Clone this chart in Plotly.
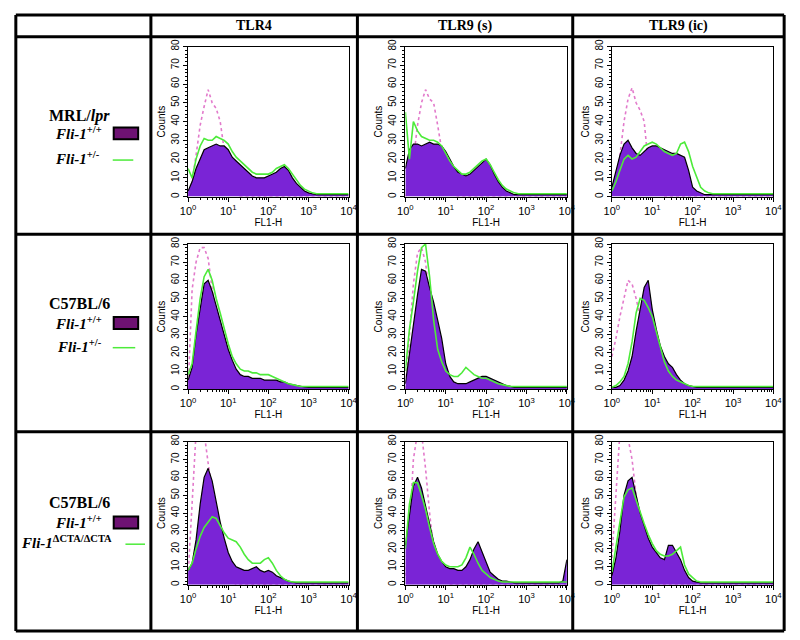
import plotly.graph_objects as go

# ---------------- data ----------------
FL1_H = [1.0, 1.26, 1.58, 2.0, 2.51, 3.16, 3.98, 5.01, 6.31, 7.94,
         10.0, 12.6, 15.8, 20.0, 25.1, 31.6, 39.8, 50.1, 63.1, 79.4,
         100, 126, 158, 200, 251, 316, 398, 501, 631, 794,
         1000, 1259, 1585, 1995, 2512, 3162, 3981, 5012, 6310, 7943, 10000]

columns = ["TLR4", "TLR9 (s)", "TLR9 (ic)"]
strains = ["MRL/<i>lpr</i>", "C57BL/6", "C57BL/6"]
wt_label = "<i>Fli-1</i><sup>+/+</sup>"
mut_labels = ["<i>Fli-1</i><sup>+/-</sup>", "<i>Fli-1</i><sup>+/-</sup>",
              "<i>Fli-1</i><sup>ΔCTA/ΔCTA</sup>"]

# Row 1: MRL/lpr
tlr4_mrl_wt = [3, 8, 15, 20, 25, 26, 27, 28, 27, 27, 25, 21, 19, 17, 15, 13, 11, 10, 10, 10,
               11, 12, 13, 15, 16, 14, 10, 7, 5, 3, 2, 1.5, 1, 1, 1, 1, 1, 1, 1, 1, 1]
tlr4_mrl_het = [15, 10, 20, 27, 31, 30, 30, 32, 31, 30, 28, 24, 21, 19, 17, 15, 13, 12, 12, 12,
                12, 13, 15, 16, 17, 15, 12, 9, 6, 4, 3, 2, 1.5, 1.5, 1.5, 1.5, 1.5, 1.5, 1.5, 1.5, 1.5]
tlr4_mrl_iso = [0, 8, 22, 38, 48, 57, 50, 47, 40, 25, 10, 6, 2, 0, 0, 0, 0, 0, 0, 0,
                0, 0, 0, 0, 0, 0, 0, 0, 0, 0, 0, 0, 0, 0, 0, 0, 0, 0, 0, 0, 0]

tlr9s_mrl_wt = [15, 25, 28, 28, 27, 28, 29, 28, 28, 27, 24, 20, 16, 13, 12, 11, 12, 14, 16, 18,
                20, 17, 12, 8, 5, 3, 2, 1, 1, 1, 1, 1, 1, 1, 1, 1, 1, 1, 1, 1, 1]
tlr9s_mrl_het = [45, 20, 40, 35, 32, 31, 30, 30, 29, 27, 23, 19, 16, 14, 12, 12, 13, 15, 17, 19,
                 20, 17, 13, 9, 6, 4, 3, 2, 1.5, 1.5, 1.5, 1.5, 1.5, 1.5, 1.5, 1.5, 1.5, 1.5, 1.5, 1.5, 1.5]
tlr9s_mrl_iso = [0, 5, 20, 38, 50, 57, 52, 50, 38, 25, 12, 5, 2, 0, 0, 0, 0, 0, 0, 0,
                 0, 0, 0, 0, 0, 0, 0, 0, 0, 0, 0, 0, 0, 0, 0, 0, 0, 0, 0, 0, 0]

tlr9ic_mrl_wt = [5, 14, 22, 28, 30, 26, 23, 22, 24, 26, 27, 27, 26, 25, 24, 23, 23, 22, 21, 14,
                 5, 3, 2, 1, 1, 1, 1, 1, 1, 1, 1, 1, 1, 1, 1, 1, 1, 1, 1, 1, 1]
tlr9ic_mrl_het = [3, 8, 14, 20, 22, 20, 21, 24, 27, 28, 29, 28, 26, 24, 23, 22, 23, 28, 29, 24,
                  16, 10, 5, 3, 2, 1.5, 1.5, 1.5, 1.5, 1.5, 1.5, 1.5, 1.5, 1.5, 1.5, 1.5, 1.5, 1.5, 1.5, 1.5, 1.5]
tlr9ic_mrl_iso = [3, 10, 22, 40, 52, 58, 50, 46, 40, 18, 8, 3, 1, 0, 0, 0, 0, 0, 0, 0,
                  0, 0, 0, 0, 0, 0, 0, 0, 0, 0, 0, 0, 0, 0, 0, 0, 0, 0, 0, 0, 0]

# Row 2: C57BL/6, Fli-1 +/-
tlr4_b6_wt = [5, 12, 30, 45, 58, 60, 54, 46, 38, 29, 22, 16, 11, 8, 7, 7, 6, 6, 6, 5,
              5, 5, 5, 4, 4, 3, 2.5, 2, 1.5, 1.2, 1, 1, 1, 1, 1, 1, 1, 1, 1, 1, 1]
tlr4_b6_het = [8, 14, 32, 50, 62, 66, 60, 50, 42, 33, 25, 18, 14, 11, 10, 10, 9, 9, 8, 8,
               8, 7, 6, 5, 4, 3, 2.5, 2, 1.5, 1.5, 1.5, 1.5, 1.5, 1.5, 1.5, 1.5, 1.5, 1.5, 1.5, 1.5, 1.5]
tlr4_b6_iso = [0, 55, 70, 78, 78, 72, 55, 38, 22, 12, 6, 3, 1, 0, 0, 0, 0, 0, 0, 0,
               0, 0, 0, 0, 0, 0, 0, 0, 0, 0, 0, 0, 0, 0, 0, 0, 0, 0, 0, 0, 0]

tlr9s_b6_wt = [3, 20, 35, 52, 66, 65, 56, 48, 38, 28, 14, 7, 4, 3, 3, 3, 4, 5, 6, 7,
               7, 6, 5, 4, 3, 2, 1.5, 1, 1, 1, 1, 1, 1, 1, 1, 1, 1, 1, 1, 1, 1]
tlr9s_b6_het = [10, 33, 48, 65, 78, 80, 62, 38, 22, 15, 10, 8, 7, 7, 9, 12, 10, 8, 7, 6,
                6, 5, 4, 3, 2.5, 2, 1.5, 1.5, 1.5, 1.5, 1.5, 1.5, 1.5, 1.5, 1.5, 1.5, 1.5, 1.5, 1.5, 1.5, 1.5]
tlr9s_b6_iso = [0, 30, 58, 75, 78, 70, 50, 30, 15, 8, 4, 2, 0, 0, 0, 0, 0, 0, 0, 0,
                0, 0, 0, 0, 0, 0, 0, 0, 0, 0, 0, 0, 0, 0, 0, 0, 0, 0, 0, 0, 0]

tlr9ic_b6_wt = [1, 1, 2, 5, 10, 18, 32, 45, 56, 60, 44, 33, 24, 18, 14, 12, 8, 5, 3, 2,
                1.5, 1, 1, 1, 1, 1, 1, 1, 1, 1, 1, 1, 1, 1, 1, 1, 1, 1, 1, 1, 1]
tlr9ic_b6_het = [1, 2, 4, 7, 14, 26, 42, 50, 49, 45, 40, 32, 23, 15, 10, 7, 5, 4, 3, 2,
                 1.5, 1.5, 1.5, 1.5, 1.5, 1.5, 1.5, 1.5, 1.5, 1.5, 1.5, 1.5, 1.5, 1.5, 1.5, 1.5, 1.5, 1.5, 1.5, 1.5, 1.5]
tlr9ic_b6_iso = [18, 28, 40, 50, 60, 58, 50, 40, 28, 18, 10, 5, 2, 0, 0, 0, 0, 0, 0, 0,
                 0, 0, 0, 0, 0, 0, 0, 0, 0, 0, 0, 0, 0, 0, 0, 0, 0, 0, 0, 0, 0]

# Row 3: C57BL/6, Fli-1 dCTA/dCTA
tlr4_cta_wt = [8, 12, 25, 45, 60, 65, 58, 46, 35, 26, 18, 13, 10, 9, 8, 8, 9, 10, 8, 7,
               8, 7, 5, 4, 3, 2, 1.5, 1, 1, 1, 1, 1, 1, 1, 1, 1, 1, 1, 1, 1, 1]
tlr4_cta_mut = [8, 12, 20, 27, 32, 35, 38, 37, 33, 29, 26, 25, 24, 21, 17, 14, 12, 12, 12, 14,
                15, 12, 8, 5, 3, 2, 1.5, 1.5, 1.5, 1.5, 1.5, 1.5, 1.5, 1.5, 1.5, 1.5, 1.5, 1.5, 1.5, 1.5, 1.5]
tlr4_cta_iso = [5, 45, 85, 90, 85, 68, 52, 38, 22, 10, 4, 2, 0, 0, 0, 0, 0, 0, 0, 0,
                0, 0, 0, 0, 0, 0, 0, 0, 0, 0, 0, 0, 0, 0, 0, 0, 0, 0, 0, 0, 0]

tlr9s_cta_wt = [22, 40, 55, 60, 54, 44, 34, 24, 17, 13, 10, 9, 9, 8, 8, 10, 14, 20, 24, 18,
                12, 7, 5, 3, 2, 2, 1.5, 1, 1, 1, 1, 1, 1, 1, 1, 1, 1, 1, 1, 2, 14]
tlr9s_cta_mut = [20, 45, 57, 57, 50, 42, 32, 23, 17, 13, 11, 10, 10, 10, 11, 15, 21, 17, 12, 8,
                 6, 4, 3, 2, 1.5, 1.5, 1.5, 1.5, 1.5, 1.5, 1.5, 1.5, 1.5, 1.5, 1.5, 1.5, 1.5, 1.5, 1.5, 1.5, 1.5]
tlr9s_cta_iso = [5, 30, 70, 85, 85, 65, 40, 20, 8, 3, 1, 0, 0, 0, 0, 0, 0, 0, 0, 0,
                 0, 0, 0, 0, 0, 0, 0, 0, 0, 0, 0, 0, 0, 0, 0, 0, 0, 0, 0, 0, 0]

tlr9ic_cta_wt = [5, 15, 30, 50, 58, 60, 50, 40, 33, 26, 21, 18, 15, 14, 22, 22, 18, 14, 8, 4,
                 2, 1.5, 1, 1, 1, 1, 1, 1, 1, 1, 1, 1, 1, 1, 1, 1, 1, 1, 1, 1, 1]
tlr9ic_cta_mut = [7, 20, 35, 49, 53, 54, 47, 40, 34, 28, 23, 19, 17, 16, 16, 17, 19, 21, 11, 6,
                  4, 2, 1.5, 1.5, 1.5, 1.5, 1.5, 1.5, 1.5, 1.5, 1.5, 1.5, 1.5, 1.5, 1.5, 1.5, 1.5, 1.5, 1.5, 1.5, 1.5]
tlr9ic_cta_iso = [15, 50, 85, 88, 82, 70, 50, 35, 18, 8, 3, 1, 0, 0, 0, 0, 0, 0, 0, 0,
                  0, 0, 0, 0, 0, 0, 0, 0, 0, 0, 0, 0, 0, 0, 0, 0, 0, 0, 0, 0, 0]

panels = [
    [(tlr4_mrl_wt, tlr4_mrl_het, tlr4_mrl_iso),
     (tlr9s_mrl_wt, tlr9s_mrl_het, tlr9s_mrl_iso),
     (tlr9ic_mrl_wt, tlr9ic_mrl_het, tlr9ic_mrl_iso)],
    [(tlr4_b6_wt, tlr4_b6_het, tlr4_b6_iso),
     (tlr9s_b6_wt, tlr9s_b6_het, tlr9s_b6_iso),
     (tlr9ic_b6_wt, tlr9ic_b6_het, tlr9ic_b6_iso)],
    [(tlr4_cta_wt, tlr4_cta_mut, tlr4_cta_iso),
     (tlr9s_cta_wt, tlr9s_cta_mut, tlr9s_cta_iso),
     (tlr9ic_cta_wt, tlr9ic_cta_mut, tlr9ic_cta_iso)],
]

# ---------------- styling / layout ----------------
W, H = 800, 640
def PX(x): return x / W
def PY(y): return 1 - y / H

FILL = "#7A24D6"
GREEN = "#4DEB3A"
PINK = "#E27ACB"
SWATCH = "#6E1273"
SERIF = "Liberation Serif, Times New Roman, serif"
SANS = "Liberation Sans, Arial, sans-serif"

col_px = [(184, 348), (406, 571), (617, 782)]
row_px = [(40, 192), (240, 387), (440, 585)]

fig = go.Figure()
layout = dict(width=W, height=H, autosize=False,
              margin=dict(l=0, r=0, t=0, b=0, pad=0),
              paper_bgcolor="white", plot_bgcolor="white", showlegend=False)

minor_x = [m * 10 ** d for d in range(4) for m in range(2, 10)]

k = 0
for r in range(3):
    for c in range(3):
        k += 1
        wt, mut, iso = panels[r][c]
        xa = "x" if k == 1 else f"x{k}"
        ya = "y" if k == 1 else f"y{k}"
        fig.add_trace(go.Scatter(x=FL1_H, y=iso, mode="lines", xaxis=xa, yaxis=ya,
                                 line=dict(color=PINK, width=1.6, dash="dot")))
        fig.add_trace(go.Scatter(x=FL1_H, y=wt, mode="lines", xaxis=xa, yaxis=ya,
                                 fill="tozeroy", fillcolor=FILL,
                                 line=dict(color="black", width=1.2)))
        fig.add_trace(go.Scatter(x=FL1_H, y=mut, mode="lines", xaxis=xa, yaxis=ya,
                                 line=dict(color=GREEN, width=1.6)))
        x0, x1 = col_px[c]
        y0, y1 = row_px[r]
        layout["xaxis" if k == 1 else f"xaxis{k}"] = dict(
            type="log", range=[0, 4], domain=[PX(x0), PX(x1)], anchor=ya,
            tickmode="array", tickvals=[1, 10, 100, 1000, 10000],
            ticktext=["10<sup>0</sup>", "10<sup>1</sup>", "10<sup>2</sup>",
                      "10<sup>3</sup>", "10<sup>4</sup>"],
            ticks="outside", ticklen=4, tickcolor="black",
            minor=dict(tickmode="array", tickvals=minor_x, ticks="outside",
                       ticklen=2, tickcolor="black", showgrid=False),
            showline=True, linecolor="black", linewidth=1, mirror=True,
            showgrid=False, zeroline=False,
            tickfont=dict(family=SANS, size=11, color="black"),
            title=dict(text="FL1-H", font=dict(family=SANS, size=10, color="black"),
                       standoff=0))
        layout["yaxis" if k == 1 else f"yaxis{k}"] = dict(
            range=[0, 80], domain=[PY(y1), PY(y0)], anchor=xa,
            tickmode="linear", tick0=0, dtick=10, tickangle=-90,
            ticks="outside", ticklen=4, tickcolor="black",
            minor=dict(dtick=2, ticks="outside", ticklen=2, tickcolor="black",
                       showgrid=False),
            showline=True, linecolor="black", linewidth=1, mirror=True,
            showgrid=False, zeroline=False,
            tickfont=dict(family=SANS, size=10, color="black"),
            title=dict(text="Counts", font=dict(family=SANS, size=10, color="black"),
                       standoff=2))

# table grid
shapes = []
vlines = [8, 146, 357, 577, 793]
hlines = [8, 30, 230, 430, 632]
for vx in vlines:
    shapes.append(dict(type="line", xref="paper", yref="paper",
                       x0=PX(vx), x1=PX(vx), y0=PY(8), y1=PY(632),
                       line=dict(color="black", width=3)))
for hy in hlines:
    shapes.append(dict(type="line", xref="paper", yref="paper",
                       x0=PX(8), x1=PX(793), y0=PY(hy), y1=PY(hy),
                       line=dict(color="black", width=3)))

annotations = []
# column headers
for name, cx in zip(columns, [251, 467, 685]):
    annotations.append(dict(text=f"<b>{name}</b>", x=PX(cx), y=PY(19), xref="paper",
                            yref="paper", showarrow=False, xanchor="center",
                            yanchor="middle", font=dict(family=SERIF, size=14, color="black")))

# row labels
strain_y = [110, 300, 502]
wt_y = [128, 320, 522]
mut_y = [153, 343, 542]
mut_x = [46, 48, 11]
line_x = [(107, 128), (107, 130), (120, 140)]
for r in range(3):
    annotations.append(dict(text=f"<b>{strains[r]}</b>", x=PX(40), y=PY(strain_y[r]),
                            xref="paper", yref="paper", showarrow=False, xanchor="left",
                            yanchor="middle", font=dict(family=SERIF, size=16, color="black")))
    annotations.append(dict(text=f"<b>{wt_label}</b>", x=PX(46), y=PY(wt_y[r]),
                            xref="paper", yref="paper", showarrow=False, xanchor="left",
                            yanchor="middle", font=dict(family=SERIF, size=15, color="black")))
    annotations.append(dict(text=f"<b>{mut_labels[r]}</b>", x=PX(mut_x[r]), y=PY(mut_y[r]),
                            xref="paper", yref="paper", showarrow=False, xanchor="left",
                            yanchor="middle", font=dict(family=SERIF, size=15, color="black")))
    shapes.append(dict(type="rect", xref="paper", yref="paper",
                       x0=PX(108), x1=PX(133), y0=PY(wt_y[r] + 6), y1=PY(wt_y[r] - 6),
                       fillcolor=SWATCH, line=dict(color="black", width=2)))
    lx0, lx1 = line_x[r]
    shapes.append(dict(type="line", xref="paper", yref="paper",
                       x0=PX(lx0), x1=PX(lx1), y0=PY(mut_y[r] + 2), y1=PY(mut_y[r] + 2),
                       line=dict(color=GREEN, width=1.5)))

layout["shapes"] = shapes
layout["annotations"] = annotations
fig.update_layout(**layout)
fig.write_html("out.html", config={"displayModeBar": False},
               post_script="document.body.style.margin='0';"
                           "document.body.style.overflow='hidden';")
